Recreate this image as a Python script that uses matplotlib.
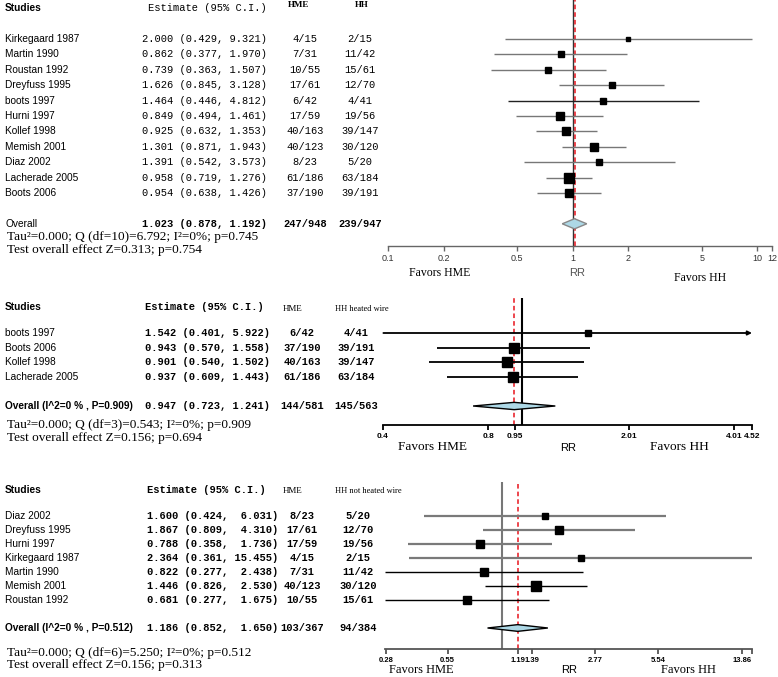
import numpy as np
import matplotlib
matplotlib.use("Agg")
import matplotlib.pyplot as plt
from matplotlib.transforms import blended_transform_factory
from matplotlib.ticker import NullLocator

# datos panel 1 (todos los estudios)
p1_estudios = ["Kirkegaard 1987", "Martin 1990", "Roustan 1992", "Dreyfuss 1995", "boots 1997",
               "Hurni 1997", "Kollef 1998", "Memish 2001", "Diaz 2002", "Lacherade 2005", "Boots 2006"]
p1_rr = [2.000, 0.862, 0.739, 1.626, 1.464, 0.849, 0.925, 1.301, 1.391, 0.958, 0.954]
p1_lo = [0.429, 0.377, 0.363, 0.845, 0.446, 0.494, 0.632, 0.871, 0.542, 0.719, 0.638]
p1_hi = [9.321, 1.970, 1.507, 3.128, 4.812, 1.461, 1.353, 1.943, 3.573, 1.276, 1.426]
p1_hme = ["4/15", "7/31", "10/55", "17/61", "6/42", "17/59", "40/163", "40/123", "8/23", "61/186", "37/190"]
p1_hh = ["2/15", "11/42", "15/61", "12/70", "4/41", "19/56", "39/147", "30/120", "5/20", "63/184", "39/191"]
p1_total = [1.023, 0.878, 1.192]
p1_total_n = ["247/948", "239/947"]
p1_ticks = [0.1, 0.2, 0.5, 1, 2, 5, 10, 12]
p1_ticklabels = ["0.1", "0.2", "0.5", "1", "2", "5", "10", "12"]
p1_stats = ["Tau²=0.000; Q (df=10)=6.792; I²=0%; p=0.745", "Test overall effect Z=0.313; p=0.754"]

# panel 2 (HH heated wire)
p2_estudios = ["boots 1997", "Boots 2006", "Kollef 1998", "Lacherade 2005"]
p2_rr = [1.542, 0.943, 0.901, 0.937]
p2_lo = [0.401, 0.570, 0.540, 0.609]
p2_hi = [5.922, 1.558, 1.502, 1.443]
p2_hme = ["6/42", "37/190", "40/163", "61/186"]
p2_hh = ["4/41", "39/191", "39/147", "63/184"]
p2_total = [0.947, 0.723, 1.241]
p2_total_n = ["144/581", "145/563"]
p2_ticks = [0.4, 0.8, 0.95, 2.01, 4.01, 4.52]
p2_ticklabels = ["0.4", "0.8", "0.95", "2.01", "4.01", "4.52"]
p2_stats = ["Tau²=0.000; Q (df=3)=0.543; I²=0%; p=0.909", "Test overall effect Z=0.156; p=0.694"]

# panel 3 (HH not heated wire)
p3_estudios = ["Diaz 2002", "Dreyfuss 1995", "Hurni 1997", "Kirkegaard 1987", "Martin 1990",
               "Memish 2001", "Roustan 1992"]
p3_rr = [1.600, 1.867, 0.788, 2.364, 0.822, 1.446, 0.681]
p3_lo = [0.424, 0.809, 0.358, 0.361, 0.277, 0.826, 0.277]
p3_hi = [6.031, 4.310, 1.736, 15.455, 2.438, 2.530, 1.675]
p3_hme = ["8/23", "17/61", "17/59", "4/15", "7/31", "40/123", "10/55"]
p3_hh = ["5/20", "12/70", "19/56", "2/15", "11/42", "30/120", "15/61"]
p3_total = [1.186, 0.852, 1.650]
p3_total_n = ["103/367", "94/384"]
p3_ticks = [0.28, 0.55, 1.19, 1.39, 2.77, 5.54, 13.86, 15.455]
p3_ticklabels = ["0.28", "0.55", "1.19", "1.39", "2.77", "5.54", "13.86", ""]
p3_stats = ["Tau²=0.000; Q (df=6)=5.250; I²=0%; p=0.512", "Test overall effect Z=0.156; p=0.313"]

W, H = 778, 677
fig = plt.figure(figsize=(W / 100, H / 100), dpi=100)

SANS = "Liberation Sans"
MONO = "Liberation Mono"
SERIF = "Liberation Serif"


def ftext(x, y, s, **kw):
    kw.setdefault("va", "center")
    fig.text(x / W, 1 - y / H, s, **kw)


def panel(cfg):
    x0, x1, ytop, ybot = cfg["box"]
    y1, paso = cfg["fila1"], cfg["paso"]
    ax = fig.add_axes([x0 / W, 1 - ybot / H, (x1 - x0) / W, (ybot - ytop) / H])
    ax.set_xscale("log")
    ax.set_xlim(cfg["xlim"])
    ax.set_ylim(1 + (ybot - y1) / paso, 1 + (ytop - y1) / paso)
    for s in ["top", "left", "right"]:
        ax.spines[s].set_visible(False)
    ax.spines["bottom"].set_color(cfg["eje_color"])
    ax.spines["bottom"].set_linewidth(cfg["eje_lw"])
    ax.set_yticks([])
    ax.xaxis.set_minor_locator(NullLocator())
    ax.set_xticks(cfg["ticks"])
    ax.set_xticklabels(cfg["ticklabels"])
    ax.tick_params(axis="x", direction="out", length=3.5, width=cfg["eje_lw"], color=cfg["eje_color"],
                   pad=2, labelsize=cfg["tick_fs"], labelcolor=cfg["tick_color"])
    for lab in ax.get_xticklabels():
        lab.set_fontfamily(SANS)
        lab.set_fontweight(cfg["tick_w"])
    ax.patch.set_alpha(0)

    rr, lo, hi = cfg["rr"], cfg["lo"], cfg["hi"]
    filas = np.arange(1, len(rr) + 1)
    xmin, xmax = cfg["xlim"]

    # lineas de referencia
    ax.axvline(1, color=cfg["ref_color"], lw=cfg["ref_lw"], zorder=1)
    ax.axvline(cfg["total"][0], color="#e8141c", lw=1.1, ls=(0, (3, 2)), zorder=1)

    # tamano de los cuadros segun el peso (inverso de la varianza)
    se = (np.log(hi) - np.log(lo)) / 3.92
    w = 1 / se ** 2
    tam = (3.5 + 7 * np.sqrt(w / w.max())) * 0.72

    for i, f in enumerate(filas):
        c = cfg["lin_color"][i]
        lw = cfg["lin_lw"][i]
        if hi[i] > xmax:
            ax.annotate("", xy=(xmax, f), xytext=(max(lo[i], xmin), f),
                        arrowprops=dict(arrowstyle="-|>", lw=lw, color=c, mutation_scale=6,
                                        shrinkA=0, shrinkB=0), zorder=2)
        else:
            ax.plot([max(lo[i], xmin), hi[i]], [f, f], color=c, lw=lw, zorder=2, solid_capstyle="butt")
        ax.plot(rr[i], f, marker="s", ms=tam[i], color="black", mec="black", zorder=3)

    # diamante global
    fo = len(rr) + 2
    t_rr, t_lo, t_hi = cfg["total"]
    h = cfg["diam_h"]
    ax.fill([t_lo, t_rr, t_hi, t_rr], [fo, fo - h, fo, fo + h], facecolor="#add8e6",
            edgecolor=cfg["diam_edge"], lw=1.0, zorder=4)

    # columnas de texto
    tr = blended_transform_factory(fig.transFigure, ax.transData)
    xe, xhme, xhh = cfg["cols"]
    bw = cfg["est_w"]
    for i, f in enumerate(filas):
        ax.text(5 / W, f, cfg["estudios"][i], transform=tr, va="center", fontsize=7.3,
                family=SANS, fontweight=cfg["nom_w"])
        ax.text(xe / W, f, cfg["fmt"](rr[i], lo[i], hi[i]), transform=tr, va="center",
                fontsize=7.5, family=MONO, fontweight=bw)
        ax.text(xhme / W, f, cfg["hme"][i], transform=tr, va="center", ha="center",
                fontsize=7.5, family=MONO, fontweight=bw)
        ax.text(xhh / W, f, cfg["hh"][i], transform=tr, va="center", ha="center",
                fontsize=7.5, family=MONO, fontweight=bw)
    ax.text(5 / W, fo, cfg["total_lab"], transform=tr, va="center", fontsize=7.3,
            family=SANS, fontweight=cfg["total_w"])
    ax.text(xe / W, fo, cfg["fmt"](t_rr, t_lo, t_hi), transform=tr, va="center",
            fontsize=7.5, family=MONO, fontweight="bold")
    ax.text(xhme / W, fo, cfg["total_n"][0], transform=tr, va="center", ha="center",
            fontsize=7.5, family=MONO, fontweight="bold")
    ax.text(xhh / W, fo, cfg["total_n"][1], transform=tr, va="center", ha="center",
            fontsize=7.5, family=MONO, fontweight="bold")
    return ax


fmt_a = lambda r, l, h: f"{r:.3f} ({l:.3f}, {h:.3f})"
fmt_b = lambda r, l, h: f"{r:.3f} ({l:.3f}, {h:6.3f})"

# ---- panel 1
panel(dict(box=(388, 772, 0, 246), fila1=39, paso=15.4, xlim=(0.1, 12),
           ticks=p1_ticks, ticklabels=p1_ticklabels, tick_fs=6.5, tick_color="#333333", tick_w="normal",
           eje_color="#666666", eje_lw=1.0, ref_color="#333333", ref_lw=1.0,
           rr=p1_rr, lo=p1_lo, hi=p1_hi, estudios=p1_estudios, hme=p1_hme, hh=p1_hh,
           lin_color=["#777777"] * 4 + ["#222222"] + ["#777777"] * 6, lin_lw=[1.0] * 11,
           total=p1_total, total_n=p1_total_n, total_lab="Overall", total_w="normal",
           diam_h=0.33, diam_edge="#888888", cols=(142, 305, 360), est_w="normal", nom_w="normal",
           fmt=fmt_a))
ftext(5, 8, "Studies", fontsize=7.3, family=SANS, fontweight="bold")
ftext(148, 8, "Estimate (95% C.I.)", fontsize=7.5, family=MONO)
ftext(299, 5, "HME", fontsize=6.5, family=SERIF, fontweight="bold", ha="center")
ftext(362, 5, "HH", fontsize=6.5, family=SERIF, fontweight="bold", ha="center")
ftext(7, 237, p1_stats[0], fontsize=9.5, family=SERIF)
ftext(7, 250, p1_stats[1], fontsize=9.5, family=SERIF)
ftext(440, 273, "Favors HME", fontsize=8.5, family=SERIF, ha="center")
ftext(577, 273, "RR", fontsize=8, family=SANS, ha="center", color="#555555")
ftext(700, 278, "Favors HH", fontsize=8.5, family=SERIF, ha="center")

# ---- panel 2
panel(dict(box=(383, 752, 298, 425), fila1=333, paso=14.6, xlim=(0.4, 4.52),
           ticks=p2_ticks, ticklabels=p2_ticklabels, tick_fs=6, tick_color="black", tick_w="bold",
           eje_color="black", eje_lw=1.3, ref_color="black", ref_lw=1.5,
           rr=p2_rr, lo=p2_lo, hi=p2_hi, estudios=p2_estudios, hme=p2_hme, hh=p2_hh,
           lin_color=["black"] * 4, lin_lw=[1.3] * 4,
           total=p2_total, total_n=p2_total_n, total_lab="Overall (I^2=0 % , P=0.909)", total_w="bold",
           diam_h=0.25, diam_edge="black", cols=(145, 302, 356), est_w="bold", nom_w="normal",
           fmt=fmt_a))
ftext(5, 307, "Studies", fontsize=7.3, family=SANS, fontweight="bold")
ftext(145, 307, "Estimate (95% C.I.)", fontsize=7.5, family=MONO, fontweight="bold")
ftext(293, 309, "HME", fontsize=6.5, family=SERIF, ha="center")
ftext(335, 309, "HH heated wire", fontsize=6, family=SERIF)
ftext(7, 425, p2_stats[0], fontsize=9.5, family=SERIF)
ftext(7, 438, p2_stats[1], fontsize=9.5, family=SERIF)
ftext(433, 447, "Favors HME", fontsize=9.5, family=SERIF, ha="center")
ftext(568, 448, "RR", fontsize=8, family=SANS, ha="center")
ftext(679, 447, "Favors HH", fontsize=9.5, family=SERIF, ha="center")

# ---- panel 3
panel(dict(box=(385, 752, 482, 649), fila1=516, paso=14.0, xlim=(0.277, 15.455),
           ticks=p3_ticks, ticklabels=p3_ticklabels, tick_fs=5.5, tick_color="black", tick_w="bold",
           eje_color="#555555", eje_lw=1.3, ref_color="#777777", ref_lw=1.5,
           rr=p3_rr, lo=p3_lo, hi=p3_hi, estudios=p3_estudios, hme=p3_hme, hh=p3_hh,
           lin_color=["#7a7a7a"] * 4 + ["black"] * 3, lin_lw=[1.6] * 4 + [1.0] * 3,
           total=p3_total, total_n=p3_total_n, total_lab="Overall (I^2=0 % , P=0.512)", total_w="bold",
           diam_h=0.24, diam_edge="black", cols=(147, 302, 358), est_w="bold", nom_w="normal",
           fmt=fmt_b))
ftext(5, 490, "Studies", fontsize=7.3, family=SANS, fontweight="bold")
ftext(147, 490, "Estimate (95% C.I.)", fontsize=7.5, family=MONO, fontweight="bold")
ftext(293, 491, "HME", fontsize=6.5, family=SERIF, ha="center")
ftext(335, 491, "HH not heated wire", fontsize=6, family=SERIF)
ftext(7, 653, p3_stats[0], fontsize=9.5, family=SERIF)
ftext(7, 665, p3_stats[1], fontsize=9.5, family=SERIF)
ftext(421, 670, "Favors HME", fontsize=9, family=SERIF, ha="center")
ftext(569, 670, "RR", fontsize=8, family=SANS, ha="center")
ftext(688, 670, "Favors HH", fontsize=9, family=SERIF, ha="center")

fig.savefig("out.png", dpi=100)
